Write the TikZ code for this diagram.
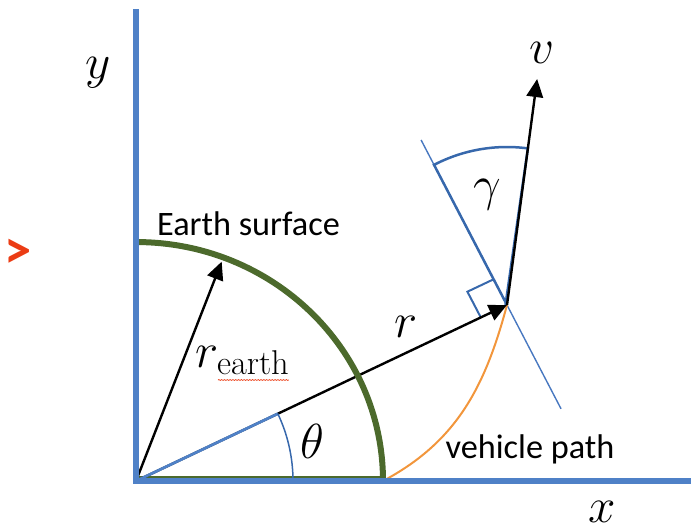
\RequirePackage{fix-cm}
\documentclass[tikz,border=0pt]{standalone}
\usepackage{fontspec}
\setsansfont{Carlito}
\usetikzlibrary{arrows.meta,calc,decorations.pathmorphing}
\definecolor{axisblue}{RGB}{79,129,199}
\definecolor{wedgeblue}{RGB}{55,104,172}
\definecolor{tanblue}{RGB}{72,120,192}
\definecolor{earthgreen}{RGB}{76,106,44}
\definecolor{pathorange}{RGB}{242,150,60}
\definecolor{markred}{RGB}{235,60,20}
\tikzset{
  axisline/.style={axisblue, line width=0.125cm},
  earthline/.style={earthgreen, line width=0.12cm},
  vec/.style={black, line width=0.048cm, -{Triangle[length=0.36cm,width=0.33cm]}},
  wedge/.style={wedgeblue, line width=0.05cm},
  thetaarc/.style={wedgeblue, line width=0.03cm},
  tanline/.style={tanblue, line width=0.028cm},
  vpath/.style={pathorange, line width=0.04cm},
  mathlbl/.style={inner sep=0pt, font=\fontsize{28}{32}\selectfont},
  sanslbl/.style={inner sep=0pt, font=\sffamily\fontsize{19.5}{23}\selectfont},
}
\begin{document}
\begin{tikzpicture}[x=0.02cm,y=0.02cm]
\useasboundingbox (-136,-48) rectangle (555,481);
\coordinate (O) at (0,0);
\coordinate (P) at (371,176);
\coordinate (E) at (247,0);
\coordinate (ET) at (0,239);
\coordinate (RE) at (68.66:235.5);
\coordinate (TH) at (25.38:157);
\coordinate (YT) at (0,472);
\coordinate (XR) at (555,0);
\coordinate (TA) at ($(P)+(117.5:186)$);
\coordinate (TB) at ($(P)+(-62.5:117)$);
\coordinate (V) at ($(P)+(82.4:228)$);

% thin green edge of the earth sector
\draw[earthgreen, line width=0.03cm] (0,4) -- (E|-0,4);

% tangent line
\draw[tanline] (TB) -- (TA);

% vehicle path
\draw[vpath] (E) to[out=28,in=255] (P);

% gamma wedge
\draw[wedge] (P) -- ++(117.5:158) arc[start angle=117.5, end angle=82.4, radius=3.16cm] -- ([xshift=-0.03cm]P);

% right angle mark
\draw[wedge, line width=0.04cm] ($(P)+(205.38:29)$) -- ($(P)+(205.38:29)+(117.5:29)$) -- ($(P)+(117.5:29)$);

% vectors
\draw[vec] (O) -- (P);
\draw[vec] (P) -- (V);
\draw[vec] (O) -- (RE);

% theta wedge
\draw[axisblue, line width=0.055cm] (O) -- (TH);
\draw[thetaarc] (157,0) arc[start angle=0, end angle=25.38, radius=3.14cm];

% earth surface
\draw[earthline] (E) arc[start angle=0, end angle=90, x radius=4.94cm, y radius=4.78cm];

% axes
\draw[axisline] (YT) -- (O) -- (XR);

% labels
\node[mathlbl, anchor=base] (ylab) at (-38,403) {$y$};
\node[mathlbl, anchor=base] (xlab) at (466,-41) {$x$};
\node[mathlbl, anchor=base] (vlab) at (406,418) {$v$};
\node[mathlbl, anchor=base] (glab) at (351,281) {$\gamma$};
\node[mathlbl, anchor=base] (rlab) at (270.5,144) {$r$};
\node[mathlbl, anchor=base] (tlab) at (176.5,23) {$\theta$};
\node[mathlbl, anchor=base west] (relab) at (59,114) {$r_{\mathrm{earth}}$};
\node[sanslbl, anchor=base] (eslab) at (112.5,246) {Earth surface};
\node[sanslbl, anchor=base] (vplab) at (394,23) {vehicle path};
\node[inner sep=0pt, text=markred, font=\sffamily\bfseries\fontsize{31}{34}\selectfont] (mark) at (-117.5,227) {>};
\draw[markred, line width=0.4pt, decorate, decoration={snake, amplitude=0.25pt, segment length=1.6pt}] (82,101) -- (153,101);
\end{tikzpicture}
\end{document}
